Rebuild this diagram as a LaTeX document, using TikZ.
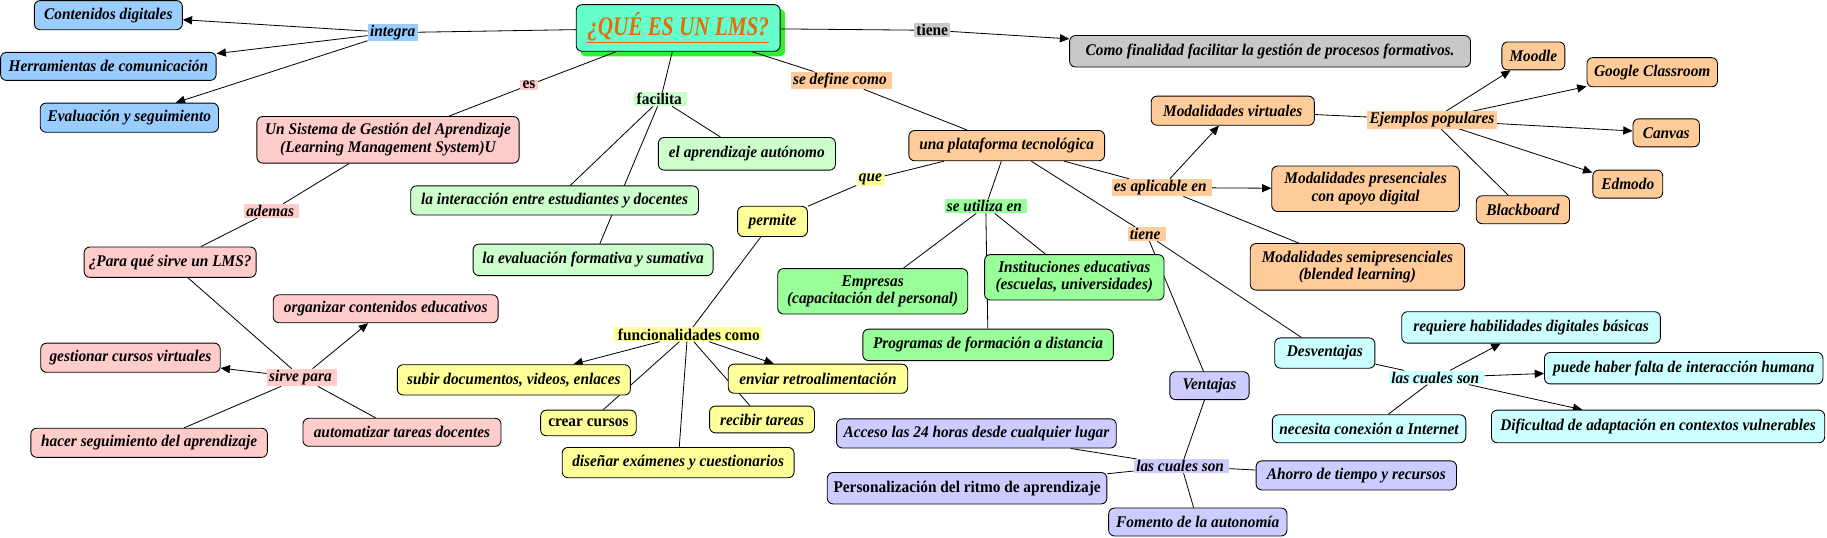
\documentclass[tikz,border=0pt]{standalone}
\usepackage{fontspec}
\setmainfont{Liberation Serif}[FakeStretch=0.94]
\newfontfamily\titlefont{Liberation Serif}[FakeStretch=0.79]
\usetikzlibrary{arrows.meta,backgrounds,calc}
\definecolor{ctitle}{HTML}{66FFCC}
\definecolor{cshadow}{HTML}{33EE33}
\definecolor{corangeT}{HTML}{E46C0A}
\definecolor{cgray}{HTML}{C8C8C8}
\definecolor{cblue}{HTML}{99CCFF}
\definecolor{cpink}{HTML}{FFCCCC}
\definecolor{clgreen}{HTML}{CCFFCC}
\definecolor{cgreen}{HTML}{99FF99}
\definecolor{corange}{HTML}{FFCC99}
\definecolor{cyellow}{HTML}{FFFF99}
\definecolor{clav}{HTML}{CCCCFF}
\definecolor{ccyan}{HTML}{CCFFFF}
\newcommand\mapbi{\fontsize{14}{15}\selectfont\bfseries\itshape}
\newcommand\mapbf{\fontsize{14}{15}\selectfont\bfseries}
\begin{document}
\begin{tikzpicture}[x=1pt,y=-1pt,
  box/.style={draw=black, line width=0.75pt, rounded corners=5pt, inner xsep=4pt, inner ysep=2pt, align=center, font=\mapbi},
  upr/.style={font=\mapbf},
  lbl/.style={inner xsep=2pt, inner ysep=1pt, font=\mapbi},
  con/.style={draw=black, line width=0.7pt},
  arr/.style={con, -{Triangle[length=8pt,width=7pt]}}]
\useasboundingbox (0,0) rectangle (1568,461);
% title
\node[box, fill=ctitle, minimum width=175pt, minimum height=40pt, font=\titlefont\fontsize{23}{25}\selectfont\bfseries\itshape, text=corangeT] (title) at (582,24) {\underline{¿QUÉ ES UN LMS?}};
\node[box, fill=cgray, minimum width=344pt, minimum height=27pt] (como) at (1090,44) {Como finalidad facilitar la gestión de procesos formativos.};
% blue
\node[box, fill=cblue, minimum width=127pt, minimum height=25pt] (contenidos) at (93,13) {Contenidos digitales};
\node[box, fill=cblue, minimum width=185pt, minimum height=24pt] (herramientas) at (93,57) {Herramientas de comunicación};
\node[box, fill=cblue, minimum width=153pt, minimum height=25pt] (evaluacion) at (111,101) {Evaluación y seguimiento};
% pink
\node[box, fill=cpink, minimum width=225pt, minimum height=40pt] (unsistema) at (333,120) {Un Sistema de Gestión del Aprendizaje\\(Learning Management System)U};
\node[box, fill=cpink, minimum width=143pt, minimum height=26pt] (paraque) at (146,225) {¿Para qué sirve un LMS?};
\node[box, fill=cpink, minimum width=193pt, minimum height=24pt] (organizar) at (331,265) {organizar contenidos educativos};
\node[box, fill=cpink, minimum width=154pt, minimum height=25pt] (gestionar) at (112,307) {gestionar cursos virtuales};
\node[box, fill=cpink, minimum width=203pt, minimum height=25pt] (hacer) at (128,380) {hacer seguimiento del aprendizaje};
\node[box, fill=cpink, minimum width=170pt, minimum height=24pt] (automatizar) at (345,371) {automatizar tareas docentes};
% light green
\node[box, fill=clgreen, minimum width=152pt, minimum height=28pt] (aprendizaje) at (641,132) {el aprendizaje autónomo};
\node[box, fill=clgreen, minimum width=247pt, minimum height=25pt] (interaccion) at (476,172) {la interacción entre estudiantes y docentes};
\node[box, fill=clgreen, minimum width=206pt, minimum height=27pt] (evalform) at (509,223) {la evaluación formativa y sumativa};
% orange
\node[box, fill=corange, minimum width=168pt, minimum height=26pt] (plataforma) at (864,125) {una plataforma tecnológica};
\node[box, fill=corange, minimum width=140pt, minimum height=25pt] (modvirt) at (1058,95) {Modalidades virtuales};
\node[box, fill=corange, minimum width=54pt, minimum height=24pt] (moodle) at (1316,48) {Moodle};
\node[box, fill=corange, minimum width=112pt, minimum height=25pt] (google) at (1418,62) {Google Classroom};
\node[box, fill=corange, minimum width=57pt, minimum height=24pt] (canvas) at (1430,114) {Canvas};
\node[box, fill=corange, minimum width=60pt, minimum height=24pt] (edmodo) at (1397,158) {Edmodo};
\node[box, fill=corange, minimum width=80pt, minimum height=24pt] (blackboard) at (1307,180) {Blackboard};
\node[box, fill=corange, minimum width=161pt, minimum height=39pt] (modpres) at (1172,162) {Modalidades presenciales\\con apoyo digital};
\node[box, fill=corange, minimum width=184pt, minimum height=40pt] (modsemi) at (1165,229) {Modalidades semipresenciales\\(blended learning)};
% yellow
\node[box, fill=cyellow, minimum width=60pt, minimum height=26pt] (permite) at (663,190) {permite};
\node[box, fill=cyellow, minimum width=200pt, minimum height=26pt] (subir) at (441,326) {subir documentos, videos, enlaces};
\node[box, upr, fill=cyellow, minimum width=82pt, minimum height=22pt] (crear) at (505,363) {crear cursos};
\node[box, fill=cyellow, minimum width=199pt, minimum height=26pt] (disenar) at (582,397) {diseñar exámenes y cuestionarios};
\node[box, fill=cyellow, minimum width=90pt, minimum height=23pt] (recibir) at (654,360) {recibir tareas};
\node[box, fill=cyellow, minimum width=154pt, minimum height=25pt] (enviar) at (702,325) {enviar retroalimentación};
% green
\node[box, fill=cgreen, minimum width=163pt, minimum height=39pt] (empresas) at (749,250) {Empresas\\(capacitación del personal)};
\node[box, fill=cgreen, minimum width=154pt, minimum height=39pt] (instituciones) at (922,238) {Instituciones educativas\\(escuelas, universidades)};
\node[box, fill=cgreen, minimum width=215pt, minimum height=27pt] (programas) at (848,296) {Programas de formación a distancia};
% lavender
\node[box, fill=clav, minimum width=68pt, minimum height=24pt] (ventajas) at (1038,331) {Ventajas};
\node[box, fill=clav, minimum width=240pt, minimum height=25pt] (acceso) at (838,372) {Acceso las 24 horas desde cualquier lugar};
\node[box, upr, fill=clav, minimum width=240pt, minimum height=27pt] (personal) at (830,419) {Personalización del ritmo de aprendizaje};
\node[box, fill=clav, minimum width=172pt, minimum height=25pt] (ahorro) at (1164,408) {Ahorro de tiempo y recursos};
\node[box, fill=clav, minimum width=153pt, minimum height=24pt] (fomento) at (1028,448) {Fomento de la autonomía};
% cyan
\node[box, fill=ccyan, minimum width=86pt, minimum height=26pt] (desventajas) at (1137,303) {Desventajas};
\node[box, fill=ccyan, minimum width=222pt, minimum height=27pt] (requiere) at (1314,281) {requiere habilidades digitales básicas};
\node[box, fill=ccyan, minimum width=239pt, minimum height=27pt] (puede) at (1445,316) {puede haber falta de interacción humana};
\node[box, fill=ccyan, minimum width=166pt, minimum height=24pt] (necesita) at (1175,368) {necesita conexión a Internet};
\node[box, fill=ccyan, minimum width=286pt, minimum height=28pt] (dificultad) at (1423,366) {Dificultad de adaptación en contextos vulnerables};
% labels
\node[lbl, upr, fill=cgray] (tieneA) at (800,26) {tiene};
\node[lbl, fill=cblue] (integra) at (337,28) {integra};
\node[lbl, upr, fill=cpink] (es) at (454,73) {es};
\node[lbl, fill=cpink] (ademas) at (233,181) {ademas\,};
\node[lbl, upr, fill=clgreen] (facilita) at (567,85) {facilita\,};
\node[lbl, fill=corange] (sedefine) at (722,69) {se define como\,};
\node[lbl, fill=cyellow] (que) at (747,154) {que};
\node[lbl, upr, fill=cyellow] (funcion) at (590,287) {\,funcionalidades como};
\node[lbl, fill=cgreen] (seutiliza) at (846,177) {se utiliza en\,};
\node[lbl, fill=corange] (esaplicable) at (997,161) {es aplicable en\,};
\node[lbl, fill=corange] (ejemplos) at (1229,103) {Ejemplos populares};
\node[lbl, fill=corange] (tieneB) at (984,201) {tiene\,};
\node[lbl, fill=clav] (cualesA) at (1014,400) {las cuales son\,};
\node[lbl, fill=ccyan] (cualesB) at (1233,324) {las cuales son\,};
\node[lbl, fill=cpink] (sirvepara) at (259,324) {sirve para\,};
% connectors
\begin{scope}[on background layer]
\fill[cshadow, rounded corners=5pt] ($(title.north west)+(4,4)$) rectangle ($(title.south east)+(4,4)$);
\draw[con] (integra) -- (title);
\draw[arr] (integra) -- (contenidos);
\draw[arr] (integra) -- (herramientas);
\draw[arr] (integra) -- (evaluacion);
\draw[con] (title) -- (tieneA);
\draw[arr] (tieneA) -- (como);
\draw[con] (title) -- (es);
\draw[con] (es) -- (unsistema);
\draw[con] (unsistema) -- (ademas);
\draw[con] (ademas) -- (paraque);
\draw[con] (paraque) -- (sirvepara);
\draw[arr] (sirvepara) -- (organizar);
\draw[arr] (sirvepara) -- (gestionar);
\draw[con] (sirvepara) -- (hacer);
\draw[con] (sirvepara) -- (automatizar);
\draw[con] (title) -- (facilita);
\draw[con] (facilita) -- (interaccion);
\draw[con] (facilita) -- (evalform);
\draw[con] (facilita) -- (aprendizaje);
\draw[con] (title) -- (sedefine);
\draw[con] (sedefine) -- (plataforma);
\draw[con] (plataforma) -- (que);
\draw[con] (que) -- (permite);
\draw[con] (permite) -- (funcion);
\draw[arr] (funcion) -- (subir);
\draw[arr] (funcion) -- (enviar);
\draw[con] (funcion) -- (crear);
\draw[con] (funcion) -- (disenar);
\draw[con] (funcion) -- (recibir);
\draw[con] (plataforma) -- (seutiliza);
\draw[con] (seutiliza) -- (empresas);
\draw[con] (seutiliza) -- (instituciones);
\draw[con] (seutiliza) -- (programas);
\draw[con] (plataforma) -- (esaplicable);
\draw[arr] (esaplicable) -- (modvirt);
\draw[arr] (esaplicable) -- (modpres);
\draw[con] (esaplicable) -- (modsemi);
\draw[con] (modvirt) -- (ejemplos);
\draw[arr] (ejemplos) -- (moodle);
\draw[arr] (ejemplos) -- (google);
\draw[arr] (ejemplos) -- (canvas);
\draw[arr] (ejemplos) -- (edmodo);
\draw[con] (ejemplos) -- (blackboard);
\draw[con] (plataforma) -- (tieneB);
\draw[con] (tieneB) -- (ventajas);
\draw[con] (tieneB) -- (desventajas);
\draw[con] (ventajas) -- (cualesA);
\draw[con] (cualesA) -- (acceso);
\draw[con] (cualesA) -- (personal);
\draw[con] (cualesA) -- (ahorro);
\draw[con] (cualesA) -- (fomento);
\draw[con] (desventajas) -- (cualesB);
\draw[arr] (cualesB) -- (requiere);
\draw[arr] (cualesB) -- (puede);
\draw[arr] (cualesB) -- (dificultad);
\draw[con] (cualesB) -- (necesita);
\end{scope}
\end{tikzpicture}
\end{document}
